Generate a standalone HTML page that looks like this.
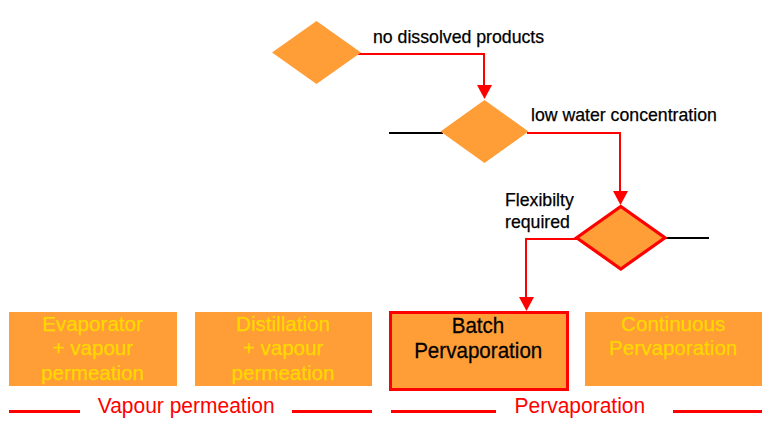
<!DOCTYPE html>
<html><head><meta charset="utf-8"><style>
html,body{margin:0;padding:0;background:#fff;}
body{width:771px;height:421px;overflow:hidden;}
svg{display:block;}
text{font-family:"Liberation Sans",sans-serif;}
.k{stroke:#000;stroke-width:0.25;}
</style></head><body>
<svg width="771" height="421" viewBox="0 0 771 421">
<rect width="771" height="421" fill="#fff"/>
<!-- diamond 1 -->
<polyline points="358,54 484,54 484,86" fill="none" stroke="#FF0000" stroke-width="2"/>
<polygon points="272,52.5 316.5,21 361,52.5 316.5,84" fill="#FF9D37"/>
<polygon points="477,85 492,85 484.5,99" fill="#FF0000"/>
<text x="373" y="43" font-size="17.7" fill="#000" class="k">no dissolved products</text>
<!-- diamond 2 -->
<line x1="389" y1="133" x2="443" y2="133" stroke="#000" stroke-width="2"/>
<polygon points="440.5,131.5 484.5,100 528.5,131.5 484.5,163" fill="#FF9D37"/>
<polyline points="527,133 620,133 620,192" fill="none" stroke="#FF0000" stroke-width="2"/>
<polygon points="613,191 628,191 620.5,205" fill="#FF0000"/>
<text x="531" y="121" font-size="17.7" fill="#000" class="k">low water concentration</text>
<!-- diamond 3 -->
<text x="505" y="205.5" font-size="17.7" fill="#000" class="k">Flexibilty</text>
<text x="505" y="227.5" font-size="17.7" fill="#000" class="k">required</text>
<line x1="665" y1="238" x2="709" y2="238" stroke="#000" stroke-width="2"/>
<polyline points="578,239 526,239 526,298" fill="none" stroke="#FF0000" stroke-width="2"/>
<polygon points="519,297 534,297 526.5,311" fill="#FF0000"/>
<polygon points="576.6,237.75 620.8,206.5 665,237.75 620.8,269" fill="#FF9D37" stroke="#FF0000" stroke-width="3.2"/>
<!-- boxes -->
<rect x="9" y="312" width="168" height="74" fill="#FF9D37"/>
<rect x="195" y="312" width="177" height="74" fill="#FF9D37"/>
<rect x="390.5" y="312.5" width="177" height="77" fill="#FF9D37" stroke="#FF0000" stroke-width="3"/>
<rect x="585" y="312" width="177" height="74" fill="#FF9D37"/>
<g font-size="20.6" fill="#FFD800" text-anchor="middle" stroke="#FFD800" stroke-width="0.25">
<text x="92.5" y="330.7">Evaporator</text>
<text x="92.8" y="355.3">+ vapour</text>
<text x="92.5" y="379.9">permeation</text>
<text x="283" y="330.7">Distillation</text>
<text x="283" y="355.3">+ vapour</text>
<text x="283" y="379.9">permeation</text>
<text x="673.2" y="330.7">Continuous</text>
<text x="673.2" y="355.3">Pervaporation</text>
</g>
<g font-size="20.6" fill="#000" text-anchor="middle" class="k">
<text transform="translate(478 332.8) scale(1 1.045)" x="0" y="0">Batch</text>
<text transform="translate(478.2 357.9) scale(1 1.045)" x="0" y="0">Pervaporation</text>
</g>
<!-- bottom -->
<g fill="#FF0000">
<rect x="9" y="410" width="71" height="3"/>
<rect x="292" y="410" width="80" height="3"/>
<rect x="391" y="410" width="105" height="3"/>
<rect x="673" y="410" width="89" height="3"/>
</g>
<g font-size="21" fill="#FF0000">
<text transform="translate(97.7 413) scale(1 1.045)" x="0" y="0">Vapour permeation</text>
<text transform="translate(514.5 413) scale(1 1.045)" x="0" y="0">Pervaporation</text>
</g>
</svg>
</body></html>
